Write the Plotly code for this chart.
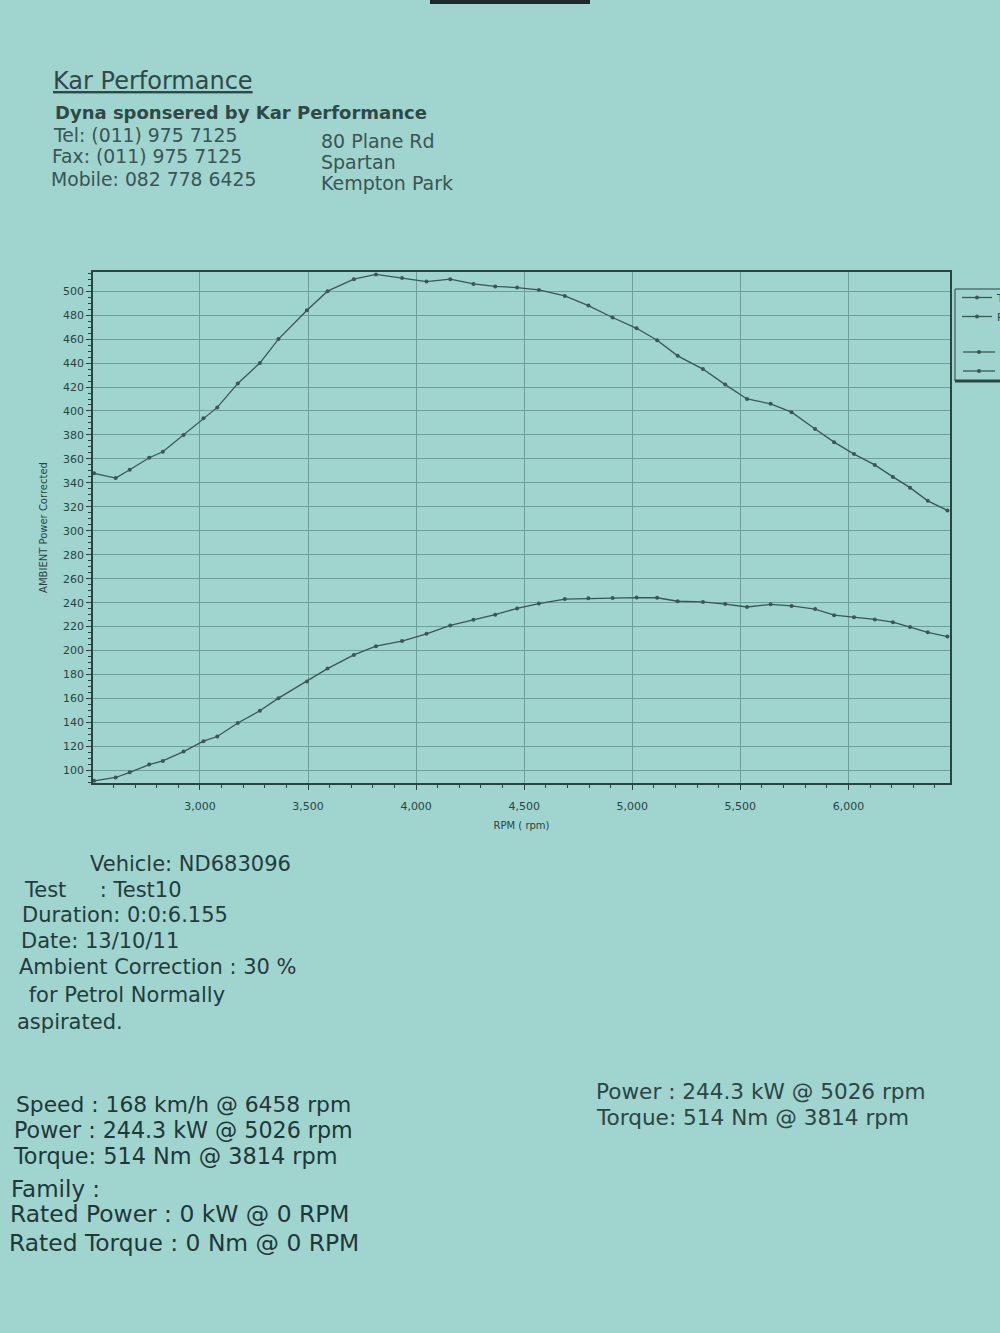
import plotly.graph_objects as go

# ---------------- data (read from the dyno sheet) ----------------
RPM = [2510, 2610, 2675, 2765, 2828, 2924, 3016, 3080, 3175, 3277,
       3363, 3495, 3590, 3712, 3814, 3935, 4048, 4158, 4265, 4366,
       4467, 4568, 4688, 4797, 4909, 5020, 5115, 5210, 5327, 5430,
       5531, 5640, 5737, 5846, 5934, 6026, 6122, 6206, 6285, 6367, 6458]

TORQUE_NM = [348, 344, 351, 361, 366, 380, 394, 403, 423, 440,
             460, 484, 500, 510, 514, 511, 508, 510, 506, 504,
             503, 501, 496, 488, 478, 469, 459, 446, 435, 422,
             410, 406, 399, 385, 374, 364, 355, 345, 336, 325, 317]

POWER_KW = [91.3, 94.1, 98.4, 104.9, 107.9, 115.7, 124.4, 128.3, 139.6, 149.8,
            160.3, 174.3, 185.0, 196.4, 203.7, 208.0, 214.0, 221.0, 225.7, 230.0,
            235.2, 239.3, 243.0, 243.6, 244.0, 244.3, 244.1, 241.2, 240.6, 238.8,
            236.4, 238.6, 237.3, 234.7, 229.6, 227.9, 226.0, 223.7, 219.8, 215.3, 211.7]

SERIES_NAMES = ["Torque", "Power"]

HEADER_LINES = ["Tel: (011) 975 7125", "Fax: (011) 975 7125", "Mobile: 082 778 6425"]
ADDRESS_LINES = ["80 Plane Rd", "Spartan", "Kempton Park"]
VEHICLE_LINES = ["Vehicle: ND683096", "Test     : Test10", "Duration: 0:0:6.155",
                 "Date: 13/10/11", "Ambient Correction : 30 %",
                 " for Petrol Normally", "aspirated."]
RESULT_LINES = ["Speed : 168 km/h @ 6458 rpm", "Power : 244.3 kW @ 5026 rpm",
                "Torque: 514 Nm @ 3814 rpm", "Family :",
                "Rated Power : 0 kW @ 0 RPM", "Rated Torque : 0 Nm @ 0 RPM"]
SUMMARY_LINES = ["Power : 244.3 kW @ 5026 rpm", "Torque: 514 Nm @ 3814 rpm"]

# ---------------- layout geometry ----------------
W_FIG, H_FIG = 1000, 1333
L, R, T, B = 93, 50, 272, 550
PW = W_FIG - L - R
PH = H_FIG - T - B

BG = "#a0d4cf"
INK = "#2a4442"
CURVE = "#3a5754"
GRID = "#6f9f9b"
FONT = "DejaVu Sans"


def px(x):
    return (x - L) / PW


def py(y):
    return 1 - (y - T) / PH


fig = go.Figure()

for yvals, name in zip([TORQUE_NM, POWER_KW], SERIES_NAMES):
    fig.add_trace(go.Scatter(
        x=RPM, y=yvals, name=name, mode="lines+markers",
        line=dict(color=CURVE, width=1.3),
        marker=dict(color=CURVE, size=4),
    ))

annotations = []


def text(x, y, s, size, bold=False, color=INK):
    annotations.append(dict(
        x=px(x), y=py(y), xref="paper", yref="paper", text=s,
        showarrow=False, xanchor="left", yanchor="middle",
        font=dict(family=FONT, size=size, color=color,
                  weight="bold" if bold else "normal"),
    ))


text(51, 81, "<u>Kar Performance</u>", 24, color="#2f4947")
text(53, 112, "Dyna sponsered by Kar Performance", 18, bold=True, color="#2f4947")
for i, s in enumerate(HEADER_LINES):
    text(51 - i, 135 + i * 22, s, 18.8, color="#3a5553")
for i, s in enumerate(ADDRESS_LINES):
    text(319, 141 + i * 21, s, 19, color="#3a5553")

vy = [864, 890, 915, 941, 967, 995, 1022]
vx = [88, 22, 20, 19, 17, 20, 15]
for s, x, y in zip(VEHICLE_LINES, vx, vy):
    text(x, y, s, 21, color="#243c3b")

ry = [1104, 1130, 1156, 1189, 1214, 1243]
rx = [14, 12, 11, 9, 8, 7]
rs = [21.8, 22.2, 22.4, 23, 23.4, 23.4]
for s, x, y, fs in zip(RESULT_LINES, rx, ry, rs):
    text(x, y, s, fs, color="#203837")

for i, s in enumerate(SUMMARY_LINES):
    text(594, 1091 + i * 26, s, 21.6, color="#2c4644")

# Partial legend box on the right edge
shapes = [
    dict(type="rect", xref="paper", yref="paper",
         x0=px(955), x1=px(1012), y0=py(381), y1=py(289),
         line=dict(color=INK, width=1), fillcolor="rgba(0,0,0,0)"),
    dict(type="line", xref="paper", yref="paper",
         x0=px(955), x1=px(1012), y0=py(381), y1=py(381),
         line=dict(color=INK, width=3)),
    dict(type="rect", xref="paper", yref="paper",
         x0=px(430), x1=px(590), y0=py(4), y1=py(0),
         line=dict(width=0), fillcolor="#1d2a2a"),
]
for yy in (352, 371):
    shapes.append(dict(type="line", xref="paper", yref="paper",
                       x0=px(963), x1=px(995), y0=py(yy), y1=py(yy),
                       line=dict(color=CURVE, width=1.3)))
    shapes.append(dict(type="circle", xref="paper", yref="paper",
                       x0=px(977), x1=px(981), y0=py(yy + 2), y1=py(yy - 2),
                       line=dict(width=0), fillcolor=CURVE))

fig.update_layout(
    width=W_FIG, height=H_FIG,
    paper_bgcolor=BG, plot_bgcolor=BG,
    margin=dict(l=L, r=R, t=T, b=B, autoexpand=False),
    font=dict(family=FONT, color=INK),
    showlegend=True,
    legend=dict(x=px(957), y=py(283), xanchor="left", yanchor="top",
                bgcolor="rgba(0,0,0,0)", borderwidth=0,
                font=dict(size=11, color=INK), itemwidth=30,
                tracegroupgap=0),
    annotations=annotations,
    shapes=shapes,
    xaxis=dict(
        range=[2505, 6470], tick0=3000, dtick=500, tickformat=",d",
        showgrid=True, gridcolor=GRID, gridwidth=1,
        showline=True, linecolor=INK, linewidth=1.6, mirror=True,
        ticks="outside", ticklen=5, tickcolor=INK, ticklabelstandoff=7,
        minor=dict(dtick=100, ticks="outside", ticklen=3, tickcolor=INK, showgrid=False),
        tickfont=dict(size=11, color=INK),
        title=dict(text="RPM ( rpm)", font=dict(size=10, color=INK), standoff=10),
        zeroline=False, automargin=False,
    ),
    yaxis=dict(
        range=[89.5, 516], tick0=100, dtick=20,
        showgrid=True, gridcolor=GRID, gridwidth=1,
        showline=True, linecolor=INK, linewidth=1.6, mirror=True,
        ticks="outside", ticklen=5, tickcolor=INK,
        minor=dict(dtick=5, ticks="outside", ticklen=3, tickcolor=INK, showgrid=False),
        tickfont=dict(size=11, color=INK),
        title=dict(text="AMBIENT Power Corrected", font=dict(size=10, color=INK), standoff=14),
        zeroline=False, automargin=False,
    ),
)

fig.write_html("out.html", config={"displayModeBar": False},
               post_script="document.body.style.margin='0';")
